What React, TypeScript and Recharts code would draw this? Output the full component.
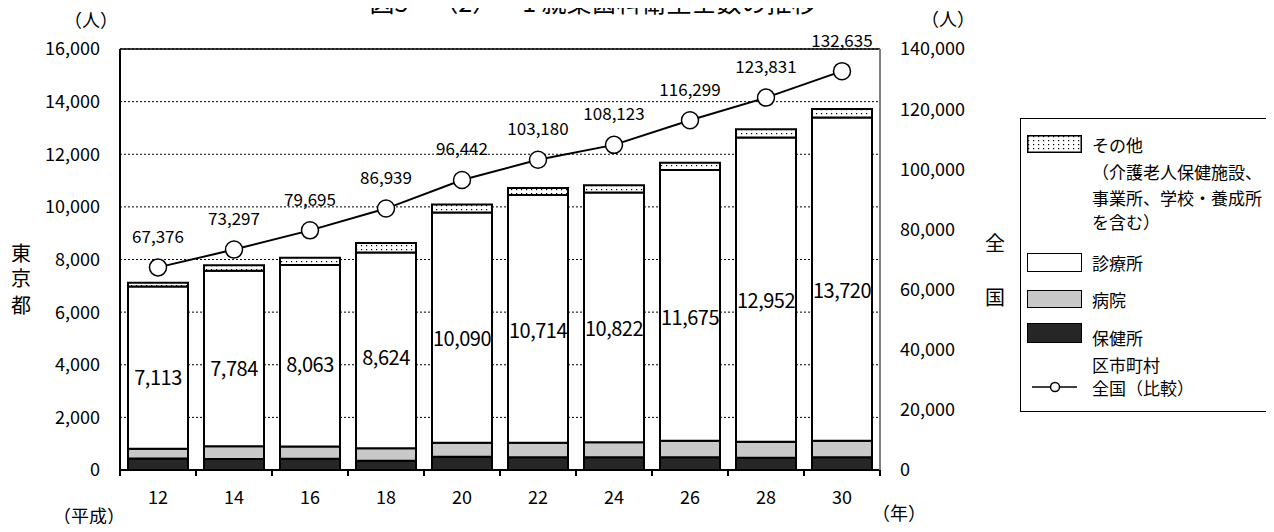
import {
  Bar,
  CartesianGrid,
  ComposedChart,
  LabelList,
  Line,
  ReferenceLine,
  XAxis,
  YAxis,
} from "recharts";

const years = ["12", "14", "16", "18", "20", "22", "24", "26", "28", "30"];
const hokenjo = [440, 420, 430, 355, 505, 485, 485, 485, 470, 485];
const byoin = [370, 480, 460, 470, 535, 555, 565, 630, 605, 630];
const shinryojo = [6160, 6675, 6900, 7445, 8750, 9410, 9500, 10285, 11565, 12285];
const sonota = [143, 209, 273, 354, 300, 264, 272, 275, 312, 320];
const totals = [7113, 7784, 8063, 8624, 10090, 10714, 10822, 11675, 12952, 13720];
const zenkoku = [67376, 73297, 79695, 86939, 96442, 103180, 108123, 116299, 123831, 132635];

const leftTicks = [0, 2000, 4000, 6000, 8000, 10000, 12000, 14000, 16000];
const rightTicks = [0, 20000, 40000, 60000, 80000, 100000, 120000, 140000];

const data = years.map((year, i) => ({
  year,
  hokenjo: hokenjo[i],
  byoin: byoin[i],
  shinryojo: shinryojo[i],
  sonota: sonota[i],
  total: totals[i],
  mid: totals[i] / 2,
  zenkoku: zenkoku[i],
}));

const FONT = '"Noto Sans CJK JP", "Noto Sans", sans-serif';
const fmt = (v: number) => v.toLocaleString("en-US");
const BAND = 76;

const tickStyle = { fontFamily: FONT, fontSize: 18, fill: "#000" };

function XTick(props: any) {
  const { x, y, payload, index } = props;
  return (
    <g>
      <line x1={x - BAND / 2} y1={y} x2={x - BAND / 2} y2={y + 6} stroke="#000" strokeWidth={2} />
      {index === years.length - 1 && (
        <line x1={x + BAND / 2} y1={y} x2={x + BAND / 2} y2={y + 6} stroke="#000" strokeWidth={2} />
      )}
      <text x={x} y={y + 26} textAnchor="middle" dominantBaseline="central" style={tickStyle}>
        {payload.value}
      </text>
    </g>
  );
}

function LineLabel(props: any) {
  const { x, y, value } = props;
  return (
    <text x={x} y={y - 32} textAnchor="middle" dominantBaseline="central"
      style={{ fontFamily: FONT, fontSize: 17, fill: "#000" }}>
      {fmt(value)}
    </text>
  );
}

function TotalLabel(props: any) {
  const { x, y, index } = props;
  return (
    <text x={x} y={y} textAnchor="middle" dominantBaseline="central"
      style={{ fontFamily: FONT, fontSize: 20, fill: "#000", letterSpacing: -0.5 }}>
      {fmt(totals[index])}
    </text>
  );
}

const abs = (left: number, top: number, extra: any = {}) => ({
  position: "absolute" as const,
  left,
  top,
  ...extra,
});

const legendText = { fontFamily: FONT, fontSize: 17, lineHeight: "20px", color: "#000", whiteSpace: "nowrap" as const };

function Legend() {
  const sw = { width: 55, border: "1.5px solid #000", boxSizing: "border-box" as const };
  return (
    <>
      <div style={abs(1020, 118, { width: 250, height: 294, border: "1.5px solid #000", boxSizing: "border-box" })} />
      <svg style={abs(1027, 135)} width={55} height={18}>
        <rect x={0.75} y={0.75} width={53.5} height={16.5} fill="url(#dotsLegend)" stroke="#000" strokeWidth={1.5} />
        <defs>
          <pattern id="dotsLegend" width={5} height={4} patternUnits="userSpaceOnUse">
            <rect width={5} height={4} fill="#fff" />
            <rect x={1} y={1} width={1.2} height={1.2} fill="#000" />
          </pattern>
        </defs>
      </svg>
      <div style={abs(1092, 135, legendText)}>その他</div>
      <div style={abs(1092, 162, legendText)}>（介護老人保健施設、</div>
      <div style={abs(1092, 188, legendText)}>事業所、学校・養成所</div>
      <div style={abs(1092, 212, legendText)}>を含む）</div>
      <div style={abs(1027, 253, { ...sw, height: 19, background: "#fff" })} />
      <div style={abs(1092, 253, legendText)}>診療所</div>
      <div style={abs(1027, 290, { ...sw, height: 18, background: "#c8c8c8" })} />
      <div style={abs(1092, 290, legendText)}>病院</div>
      <div style={abs(1027, 323, { ...sw, height: 20, background: "#262626" })} />
      <div style={abs(1092, 328, legendText)}>保健所</div>
      <div style={abs(1092, 355, legendText)}>区市町村</div>
      <svg style={abs(1030, 378)} width={50} height={18}>
        <line x1={2} y1={9} x2={47} y2={9} stroke="#000" strokeWidth={1.5} />
        <circle cx={25} cy={9} r={4.5} fill="#fff" stroke="#000" strokeWidth={1.5} />
      </svg>
      <div style={abs(1092, 378, legendText)}>全国（比較）</div>
    </>
  );
}

const label = (extra: any = {}) => ({ fontFamily: FONT, fontSize: 18, color: "#000", whiteSpace: "nowrap" as const, ...extra });
const vChar = (extra: any = {}) => label({ fontSize: 20, lineHeight: "22px", ...extra });

export default function App() {
  return (
    <div style={{ position: "relative", width: 1274, height: 532, margin: -8, background: "#fff", overflow: "hidden" }}>
      <div style={abs(593, -11, { ...label({ fontSize: 25, lineHeight: "25px" }), transform: "translateX(-50%)" })}>
        図3－（2）－1 就業歯科衛生士数の推移
      </div>
      <div style={abs(64, 8, label({ lineHeight: "22px" }))}>（人）</div>
      <div style={abs(921, 7, label({ lineHeight: "22px" }))}>（人）</div>
      <div style={abs(11, 242, vChar())}>東</div>
      <div style={abs(11, 267, vChar())}>京</div>
      <div style={abs(11, 294, vChar())}>都</div>
      <div style={abs(985, 232, vChar())}>全</div>
      <div style={abs(985, 286, vChar())}>国</div>
      <div style={abs(53, 504, label({ lineHeight: "22px" }))}>（平成）</div>
      <div style={abs(872, 501, label({ lineHeight: "22px" }))}>（年）</div>
      <div style={abs(0, 0)}>
        <ComposedChart width={1010} height={532} data={data}
          margin={{ top: 49, right: 30, bottom: 22, left: 60 }} barSize={60}>
          <defs>
            <pattern id="dots" width={5} height={4} patternUnits="userSpaceOnUse">
              <rect width={5} height={4} fill="#fff" />
              <rect x={1} y={1} width={1.2} height={1.2} fill="#000" />
            </pattern>
          </defs>
          <CartesianGrid vertical={false} stroke="#000" strokeDasharray="2 2" yAxisId="left" />
          <XAxis dataKey="year" height={40} tickSize={0} tickMargin={0} interval={0}
            axisLine={{ stroke: "#000", strokeWidth: 2 }} tickLine={false} tick={(p: any) => <XTick {...p} />} />
          <YAxis yAxisId="left" width={60} domain={[0, 16000]} ticks={leftTicks} interval={0}
            tickFormatter={fmt} tickSize={0} tickMargin={20} tickLine={false}
            axisLine={{ stroke: "#000", strokeWidth: 2 }} tick={tickStyle} />
          <YAxis yAxisId="right" orientation="right" width={100} domain={[0, 140000]} ticks={rightTicks} interval={0}
            tickFormatter={fmt} tickSize={0} tickMargin={20} tickLine={false}
            axisLine={{ stroke: "#808080", strokeWidth: 2 }} tick={{ ...tickStyle, textAnchor: "start" }} />
          <ReferenceLine yAxisId="left" y={16000} stroke="#000" strokeWidth={1.5} />
          <Bar yAxisId="left" dataKey="hokenjo" stackId="a" fill="#262626" stroke="#000" strokeWidth={2} isAnimationActive={false} />
          <Bar yAxisId="left" dataKey="byoin" stackId="a" fill="#c8c8c8" stroke="#000" strokeWidth={2} isAnimationActive={false} />
          <Bar yAxisId="left" dataKey="shinryojo" stackId="a" fill="#fff" stroke="#000" strokeWidth={2} isAnimationActive={false} />
          <Bar yAxisId="left" dataKey="sonota" stackId="a" fill="url(#dots)" stroke="#000" strokeWidth={2} isAnimationActive={false} />
          <Line yAxisId="left" dataKey="mid" stroke="none" dot={false} activeDot={false} isAnimationActive={false}>
            <LabelList dataKey="mid" content={(p: any) => <TotalLabel {...p} />} />
          </Line>
          <Line yAxisId="right" dataKey="zenkoku" stroke="#000" strokeWidth={2}
            dot={{ r: 8.5, fill: "#fff", stroke: "#000", strokeWidth: 1.5 }} activeDot={false} isAnimationActive={false}>
            <LabelList dataKey="zenkoku" content={(p: any) => <LineLabel {...p} />} />
          </Line>
        </ComposedChart>
      </div>
      <Legend />
    </div>
  );
}
